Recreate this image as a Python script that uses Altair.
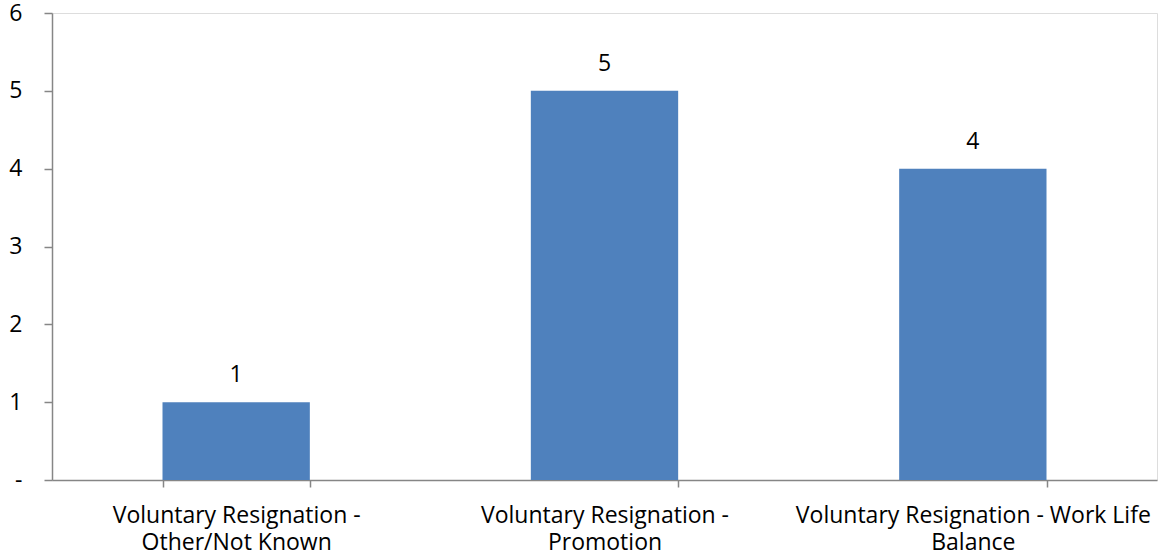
import altair as alt
import pandas as pd

categories = [
    "Voluntary Resignation - Other/Not Known",
    "Voluntary Resignation - Promotion",
    "Voluntary Resignation - Work Life Balance",
]
label_lines = [
    ["Voluntary Resignation -", "Other/Not Known"],
    ["Voluntary Resignation -", "Promotion"],
    ["Voluntary Resignation - Work Life", "Balance"],
]
values = [1, 5, 4]
y_ticks = [0, 1, 2, 3, 4, 5, 6]

df = pd.DataFrame({"category": categories, "value": values})

label_expr = " : ".join(
    [f"datum.value == '{c}' ? ['{l[0]}', '{l[1]}']" for c, l in zip(categories, label_lines)]
) + " : datum.label"

FONT = "Open Sans"
FS = 23
AX = "#868686"

x = alt.X(
    "category:N",
    sort=categories,
    title=None,
    scale=alt.Scale(paddingInner=0.6, paddingOuter=0.3),
    axis=alt.Axis(
        labelAngle=0,
        labelExpr=label_expr,
        labelFont=FONT,
        labelFontSize=FS,
        labelColor="#000000",
        labelLineHeight=27,
        labelPadding=17,
        labelBaseline="top",
        tickBand="extent",
        tickSize=7,
        tickColor=AX,
        domainColor=AX,
        domainWidth=1.5,
        tickWidth=1.5,
        labelLimit=500,
        grid=False,
    ),
)

y = alt.Y(
    "value:Q",
    title=None,
    scale=alt.Scale(domain=[0, 6], nice=False),
    axis=alt.Axis(
        values=y_ticks,
        format="d",
        labelExpr="datum.value == 0 ? '-\u00a0\u00a0\u00a0' : datum.label",
        labelFont=FONT,
        labelFontSize=FS,
        labelColor="#000000",
        labelPadding=22,
        tickSize=8,
        tickColor=AX,
        domainColor=AX,
        domainWidth=1.5,
        tickWidth=1.5,
        grid=False,
    ),
)

bars = alt.Chart(df).mark_bar(color="#4F81BD").encode(x=x, y=y)
text = alt.Chart(df).mark_text(
    font=FONT, fontSize=FS, color="#000000", baseline="bottom", dy=-15
).encode(x=alt.X("category:N", sort=categories), y="value:Q", text="value:Q")

chart = (
    alt.layer(bars, text)
    .properties(
        width=1105,
        height=467,
        autosize=alt.AutoSizeParams(type="none"),
        padding={"left": 52, "top": 13, "right": 1, "bottom": 79},
    )
    .configure_view(stroke="#ffffff", strokeWidth=2, fill="#ffffff")
    .configure_axis(grid=False)
    .configure(background="#ffffff")
)

chart.save("out.html", embed_options={"renderer": "svg", "actions": False})
